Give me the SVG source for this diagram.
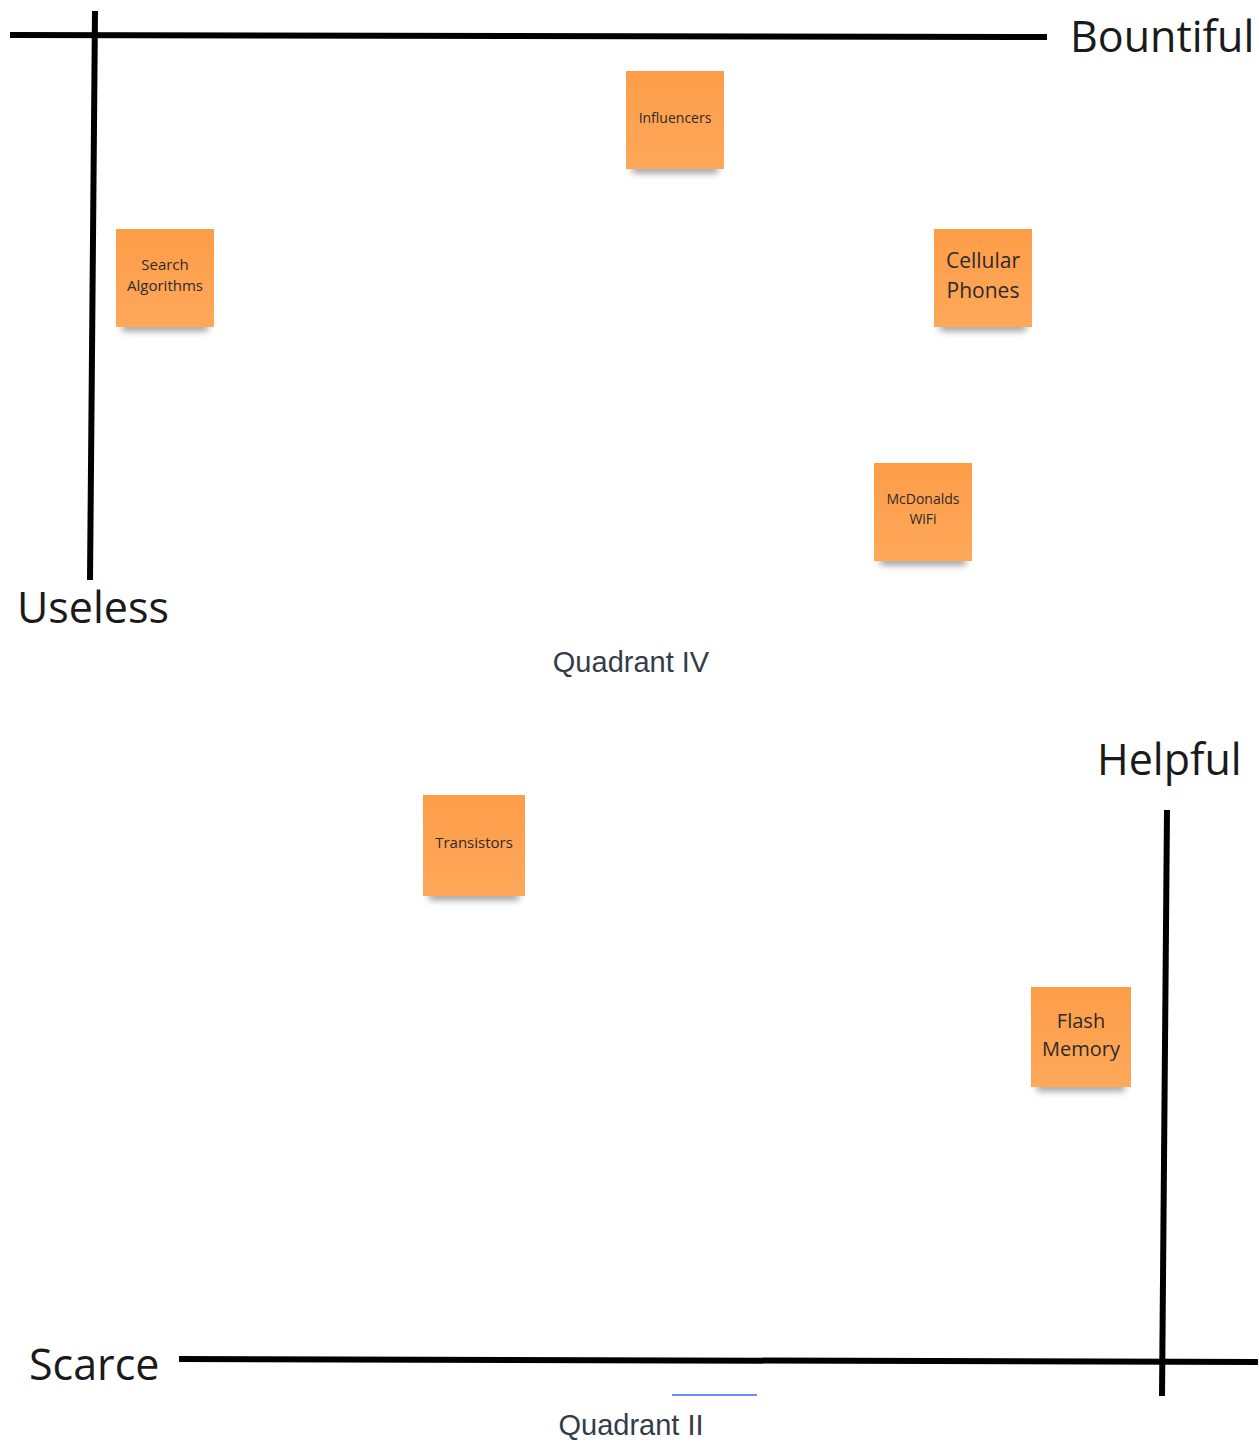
<svg xmlns="http://www.w3.org/2000/svg" width="1259" height="1452" viewBox="0 0 1259 1452">
<style>
.axis{stroke:#000;stroke-width:6;fill:none;stroke-linecap:butt}
.note{fill:url(#ng)}
.nt{font-family:"Open Sans","Noto Sans",sans-serif;fill:#2b2b2b;text-anchor:middle}
.lab{font-family:"Open Sans","Noto Sans",sans-serif;font-size:43px;fill:#1a1a1a}
.q{font-family:"Liberation Sans",Arial,sans-serif;font-size:29px;fill:#333d47;text-anchor:middle}
.sh{fill:#000;opacity:0.4;filter:url(#blur)}
</style>
<defs>
<linearGradient id="ng" x1="0" y1="0" x2="0" y2="1">
<stop offset="0" stop-color="#FD9D48"/>
<stop offset="1" stop-color="#FFA85A"/>
</linearGradient>
<filter id="blur" x="-20%" y="-100%" width="140%" height="300%">
<feGaussianBlur stdDeviation="3.5"/>
</filter>
</defs>
<rect width="1259" height="1452" fill="#fff"/>
<g id="connectors">
<path class="axis" d="M10 35 L1047 37"/>
<path class="axis" d="M95 11 L90 580"/>
<path class="axis" d="M179 1359 L1258 1362"/>
<path class="axis" d="M1167 810 L1162 1396"/>
<path d="M672 1395 L757 1395" stroke="#3d66f5" stroke-width="1.5"/>
</g>
<g id="labels">
<text class="lab" x="1070" y="52">Bountiful</text>
<text class="lab" x="17" y="623">Useless</text>
<text class="lab" x="1097" y="775" font-size="44">Helpful</text>
<text class="lab" x="29" y="1380">Scarce</text>
<text class="q" x="631" y="672">Quadrant IV</text>
<text class="q" x="631" y="1435">Quadrant II</text>
</g>
<g id="n-influencers">
<rect class="sh" x="632" y="165" width="86" height="8"/>
<rect class="note" x="626" y="71" width="98" height="98"/>
<text class="nt" x="675" y="123" font-size="14">Influencers</text>
</g>
<g id="n-search">
<rect class="sh" x="122" y="323" width="86" height="8"/>
<rect class="note" x="116" y="229" width="98" height="98"/>
<text class="nt" x="165" y="270" font-size="15">Search</text>
<text class="nt" x="165" y="291" font-size="15">Algorithms</text>
</g>
<g id="n-cellular">
<rect class="sh" x="940" y="323" width="86" height="8"/>
<rect class="note" x="934" y="229" width="98" height="98"/>
<text class="nt" x="983" y="268" font-size="21">Cellular</text>
<text class="nt" x="983" y="298" font-size="21">Phones</text>
</g>
<g id="n-mcdonalds">
<rect class="sh" x="880" y="557" width="86" height="8"/>
<rect class="note" x="874" y="463" width="98" height="98"/>
<text class="nt" x="923" y="504" font-size="14">McDonalds</text>
<text class="nt" x="923" y="524" font-size="14">WiFi</text>
</g>
<g id="n-transistors">
<rect class="sh" x="429" y="892" width="90" height="8"/>
<rect class="note" x="423" y="795" width="102" height="101"/>
<text class="nt" x="474" y="848" font-size="15">Transistors</text>
</g>
<g id="n-flash">
<rect class="sh" x="1037" y="1083" width="88" height="8"/>
<rect class="note" x="1031" y="987" width="100" height="100"/>
<text class="nt" x="1081" y="1028" font-size="20">Flash</text>
<text class="nt" x="1081" y="1056" font-size="20">Memory</text>
</g>
</svg>
